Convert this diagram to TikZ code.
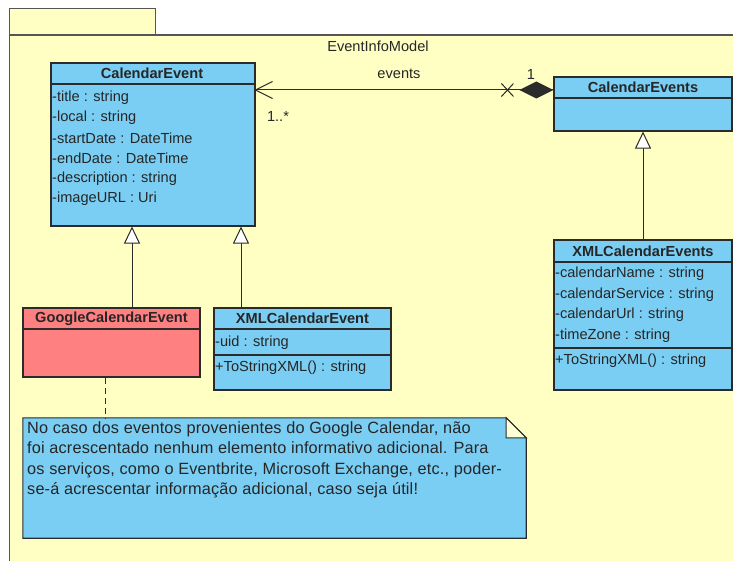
\documentclass[tikz,border=0pt]{standalone}
\usepackage{fontspec}
\setmainfont{Liberation Sans}
\usetikzlibrary{arrows.meta}

\definecolor{pkgfill}{HTML}{FFFFC4}
\definecolor{pkgline}{HTML}{555555}
\definecolor{classfill}{HTML}{7ACEF4}
\definecolor{googlefill}{HTML}{FF8080}
\definecolor{edge}{HTML}{2B2B2B}
\definecolor{foldfill}{HTML}{FFFFD6}

\tikzset{
  pkg/.style={draw=pkgline, fill=pkgfill, line width=1.2pt},
  umlclass/.style={rectangle, draw=edge, fill=classfill, line width=1.1pt, inner sep=0pt},
  sepline/.style={draw=edge, line width=1.1pt},
  cname/.style={font=\fontsize{14.6}{17}\selectfont\bfseries, inner sep=0pt, text=black!85},
  member/.style={font=\fontsize{14.6}{17}\selectfont, inner sep=0pt, anchor=west, text=black!85},
  lbl/.style={font=\fontsize{14.6}{17}\selectfont, inner sep=0pt, text=black!85},
  conn/.style={draw=edge, line width=1pt},
  generalize/.style={conn, -{Triangle[open, fill=white, length=17pt, width=16pt, line width=1pt]}},
  notebox/.style={rectangle, draw=none, inner sep=0pt},
  notetext/.style={font=\fontsize{16.3}{20.6}\selectfont\addfontfeature{LetterSpace=1.0},
    inner sep=0pt, anchor=north west, align=left, text=black!85},
}

\begin{document}
\begin{tikzpicture}[x=1pt, y=-1pt]
\useasboundingbox (0,0) rectangle (733,561);
\clip (0,0) rectangle (733,561);

% package frame with its tab
\draw[pkg] (9.5,8.5) rectangle (155.5,35);
\draw[pkg] (9.5,35) rectangle (760,600);
\node[lbl] (pkgname) at (378,46) {EventInfoModel};

% CalendarEvent
\node[umlclass, minimum width=204pt, minimum height=163pt] (ce) at (153,144.5) {};
\draw[sepline] (51,84) -- (255,84);
\node[cname] (ce-name) at (152,73.5) {CalendarEvent};
\node[member] (ce-a1) at (52,97.5) {-title : string};
\node[member] (ce-a2) at (52,118) {-local : string};
\node[member] (ce-a3) at (52,138.3) {-startDate : DateTime};
\node[member] (ce-a4) at (52,158.5) {-endDate : DateTime};
\node[member] (ce-a5) at (52,179) {-description : string};
\node[member] (ce-a6) at (52,199.2) {-imageURL : Uri};

% CalendarEvents
\node[umlclass, minimum width=178pt, minimum height=54pt] (cs) at (643,104) {};
\draw[sepline] (554,98) -- (732,98);
\node[cname] (cs-name) at (643,87.5) {CalendarEvents};

% XMLCalendarEvents
\node[umlclass, minimum width=178pt, minimum height=150pt] (xs) at (643,315) {};
\draw[sepline] (554,262) -- (732,262);
\draw[sepline] (554,348) -- (732,348);
\node[cname] (xs-name) at (643,251) {XMLCalendarEvents};
\node[member] (xs-a1) at (555,274) {-calendarName : string};
\node[member] (xs-a2) at (555,294.5) {-calendarService : string};
\node[member] (xs-a3) at (555,315) {-calendarUrl : string};
\node[member] (xs-a4) at (555,335.5) {-timeZone : string};
\node[member] (xs-o1) at (555,361) {+ToStringXML() : string};

% GoogleCalendarEvent
\node[umlclass, fill=googlefill, minimum width=177pt, minimum height=69pt] (gc) at (111.5,342.5) {};
\draw[sepline] (23,329) -- (200,329);
\node[cname] (gc-name) at (111.5,318.5) {GoogleCalendarEvent};

% XMLCalendarEvent
\node[umlclass, minimum width=177pt, minimum height=82pt] (xe) at (302.5,349) {};
\draw[sepline] (214,329) -- (391,329);
\draw[sepline] (214,355) -- (391,355);
\node[cname] (xe-name) at (302.5,318.5) {XMLCalendarEvent};
\node[member] (xe-a1) at (215,343) {-uid : string};
\node[member] (xe-o1) at (215,368) {+ToStringXML() : string};

% note with folded corner
\node[notebox, minimum width=503pt, minimum height=120pt] (note) at (274.5,478) {};
\draw[draw=edge, fill=classfill, line width=1.1pt]
  (note.south west) -- (note.north west) -- ([xshift=-20pt]note.north east)
  -- ([yshift=-20pt]note.north east) -- (note.south east) -- cycle;
\draw[draw=edge, fill=foldfill, line width=1pt]
  ([xshift=-20pt]note.north east) -- ([xshift=-20pt, yshift=-20pt]note.north east)
  -- ([yshift=-20pt]note.north east) -- cycle;
\node[notetext] (note-text) at (27,421) {No caso dos eventos provenientes do Google Calendar, não\\
foi acrescentado nenhum elemento informativo adicional. Para\\
os serviços, como o Eventbrite, Microsoft Exchange, etc., poder-\\
se-á acrescentar informação adicional, caso seja útil!};

% anchor of the note
\coordinate (noteanchor) at (105,0);
\draw[conn, dash pattern=on 6pt off 4pt] (gc.south -| noteanchor) -- (note.north -| noteanchor);

% generalizations
\draw[generalize] (xs.north) -- (cs.south);
\coordinate (g1) at (132,0);
\coordinate (g2) at (241,0);
\draw[generalize] (gc.north -| g1) -- (ce.south -| g1);
\draw[generalize] (xe.north -| g2) -- (ce.south -| g2);

% composition association CalendarEvents <>-- CalendarEvent
\coordinate (assoc) at (0,90);
\draw[conn] (cs.west |- assoc) -- (ce.east |- assoc);
\fill[edge] (cs.west |- assoc) -- ++(-17,-8.5) -- ++(-17,8.5) -- ++(17,8.5) -- cycle;
% non-navigable mark at the owner end
\draw[conn] (cs.west |- assoc) ++(-52,-6.5) -- ++(12,13)
            (cs.west |- assoc) ++(-52,6.5) -- ++(12,-13);
% open arrowhead at the navigable end
\draw[conn] (ce.east |- assoc) ++(17,-8.5) -- (ce.east |- assoc) -- ++(17,8.5);
\node[lbl] (assoc-name) at (399,74) {events};
\node[lbl] (mult-many) at (278,116) {1..*};
\node[lbl] (mult-one) at (531,74) {1};
\end{tikzpicture}
\end{document}
